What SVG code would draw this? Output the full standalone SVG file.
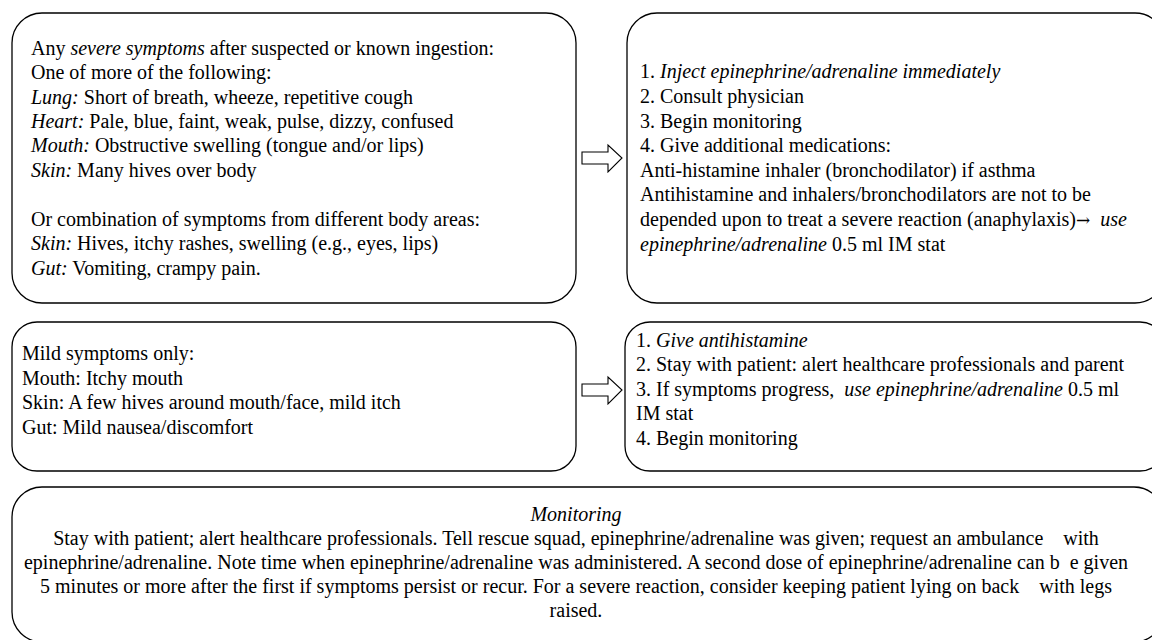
<svg xmlns="http://www.w3.org/2000/svg" width="1152" height="640" viewBox="0 0 1152 640">
  <style>
    .box { fill: #ffffff; stroke: #000000; stroke-width: 1.3; }
    .arrow { fill: #ffffff; stroke: #000000; stroke-width: 1.1; stroke-linejoin: miter; }
    text { font-family: "Liberation Serif", "Times New Roman", serif; font-size: 20px; fill: #000000; }
    .i { font-style: italic; }
    .pre { white-space: pre; }
    .c { text-anchor: middle; }
    .sym { font-family: "DejaVu Serif", serif; font-size: 17px; }
  </style>
  <rect width="1152" height="640" fill="#ffffff"/>

  <!-- severe symptoms -->
  <g id="severe-symptoms">
    <rect class="box" x="12" y="13" width="564" height="290" rx="30" ry="30"/>
    <text x="31" y="55">Any <tspan class="i">severe symptoms</tspan> after suspected or known ingestion:</text>
    <text x="31" y="79">One of more of the following:</text>
    <text x="31" y="104"><tspan class="i">Lung:</tspan> Short of breath, wheeze, repetitive cough</text>
    <text x="31" y="128"><tspan class="i">Heart:</tspan> Pale, blue, faint, weak, pulse, dizzy, confused</text>
    <text x="31" y="152"><tspan class="i">Mouth:</tspan> Obstructive swelling (tongue and/or lips)</text>
    <text x="31" y="177"><tspan class="i">Skin:</tspan> Many hives over body</text>
    <text x="31" y="226">Or combination of symptoms from different body areas:</text>
    <text x="31" y="250"><tspan class="i">Skin:</tspan> Hives, itchy rashes, swelling (e.g., eyes, lips)</text>
    <text x="31" y="275"><tspan class="i">Gut:</tspan> Vomiting, crampy pain.</text>
  </g>

  <!-- severe treatment -->
  <g id="severe-treatment">
    <rect class="box" x="627" y="13" width="538" height="290" rx="30" ry="30"/>
    <text x="640" y="78">1. <tspan class="i">Inject epinephrine/adrenaline immediately</tspan></text>
    <text x="640" y="103">2. Consult physician</text>
    <text x="640" y="128">3. Begin monitoring</text>
    <text x="640" y="152">4. Give additional medications:</text>
    <text x="640" y="177">Anti-histamine inhaler (bronchodilator) if asthma</text>
    <text x="640" y="201">Antihistamine and inhalers/bronchodilators are not to be</text>
    <text x="640" y="226" class="pre">depended upon to treat a severe reaction (anaphylaxis)<tspan class="sym">→</tspan>  <tspan class="i">use</tspan></text>
    <text x="640" y="251"><tspan class="i">epinephrine/adrenaline</tspan> 0.5 ml IM stat</text>
  </g>

  <!-- mild symptoms -->
  <g id="mild-symptoms">
    <rect class="box" x="12" y="322" width="564" height="149" rx="25" ry="25"/>
    <text x="22" y="360">Mild symptoms only:</text>
    <text x="22" y="385">Mouth: Itchy mouth</text>
    <text x="22" y="409">Skin: A few hives around mouth/face, mild itch</text>
    <text x="22" y="434">Gut: Mild nausea/discomfort</text>
  </g>

  <!-- mild treatment -->
  <g id="mild-treatment">
    <rect class="box" x="625" y="322" width="540" height="149" rx="25" ry="25"/>
    <text x="636" y="347">1. <tspan class="i">Give antihistamine</tspan></text>
    <text x="636" y="371">2. Stay with patient: alert healthcare professionals and parent</text>
    <text x="636" y="396" class="pre">3. If symptoms progress,  <tspan class="i">use epinephrine/adrenaline</tspan> 0.5 ml</text>
    <text x="636" y="420">IM stat</text>
    <text x="636" y="445">4. Begin monitoring</text>
  </g>

  <!-- monitoring -->
  <g id="monitoring">
    <rect class="box" x="12" y="487" width="1152" height="155" rx="30" ry="30"/>
    <text x="576" y="521" class="c i">Monitoring</text>
    <text x="576" y="545" class="c pre">Stay with patient; alert healthcare professionals. Tell rescue squad, epinephrine/adrenaline was given; request an ambulance    with</text>
    <text x="576" y="569" class="c pre">epinephrine/adrenaline. Note time when epinephrine/adrenaline was administered. A second dose of epinephrine/adrenaline can b  e given</text>
    <text x="576" y="593" class="c pre">5 minutes or more after the first if symptoms persist or recur. For a severe reaction, consider keeping patient lying on back    with legs</text>
    <text x="576" y="617" class="c">raised.</text>
  </g>

  <!-- connectors -->
  <g id="connectors">
    <path class="arrow" d="M582,152 H608 V145 L622,158 L608,172 V164 H582 Z"/>
    <path class="arrow" d="M582,384 H608 V377 L622,390 L608,404 V396 H582 Z"/>
  </g>
</svg>
